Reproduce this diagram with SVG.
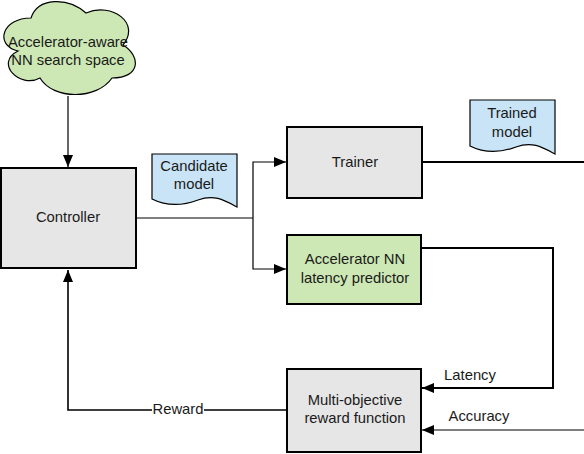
<svg xmlns="http://www.w3.org/2000/svg" width="584" height="454" viewBox="0 0 584 454">
<style>
text{font-family:"Liberation Sans",Arial,sans-serif;font-size:14.8px;fill:#1a1a1a;text-anchor:middle}
.box{stroke:#000;stroke-width:2}
.gray{fill:#e6e6e6}
.green{fill:#cde8b4}
.doc{fill:#c8e4f6;stroke:#000;stroke-width:1.2}
.ln{fill:none;stroke:#000}
</style>
<defs>
<marker id="ah" viewBox="0 0 12 10" refX="12" refY="5" markerWidth="12" markerHeight="10" markerUnits="userSpaceOnUse" orient="auto">
<path d="M0,0 L12,5 L0,10 Z" fill="#000"/>
</marker>
</defs>
<g id="connectors">
<path class="ln" stroke-width="1.2" d="M68,96 V167" marker-end="url(#ah)"/>
<path class="ln" stroke-width="1" d="M136,218 H253"/>
<path class="ln" stroke-width="1.2" d="M253,218 V162 H286" marker-end="url(#ah)"/>
<path class="ln" stroke-width="1.2" d="M253,218 V269 H286" marker-end="url(#ah)"/>
<path class="ln" stroke-width="2" d="M422,162 H584"/>
<path class="ln" stroke-width="2" d="M421,248 H553 V388 H422" marker-end="url(#ah)"/>
<path class="ln" stroke-width="1.2" d="M584,430 H422" marker-end="url(#ah)"/>
<path class="ln" stroke-width="1.6" d="M287,410 H68 V270" marker-end="url(#ah)"/>
<rect x="152" y="402" width="52" height="16" fill="#fff"/>
<text x="178" y="414">Reward</text>
<text x="470" y="380">Latency</text>
<text x="479" y="421">Accuracy</text>
</g>
<g id="search-space">
<path fill="#cde8b4" stroke="#000" stroke-width="1.2" d="M31,18 C2,18 -6,45 18,51 C-6,63 20,89 40,78 C53,100 97,100 112,78 C141,78 141,56 123,45 C141,23 112,2 86,13 C68,-3 38,-3 31,18 Z"/>
<text x="68" y="47">Accelerator-aware</text>
<text x="68" y="65">NN search space</text>
</g>
<g id="controller">
<rect class="box gray" x="1" y="168" width="135" height="100"/>
<text x="68" y="222">Controller</text>
</g>
<g id="candidate-model">
<path class="doc" d="M152,154 H237 V207 C224,200 214,194 198,200 C182,206 166,206 152,199 Z"/>
<text x="194" y="171">Candidate</text>
<text x="194" y="189">model</text>
</g>
<g id="trainer">
<rect class="box gray" x="287" y="127" width="135" height="71"/>
<text x="355" y="167">Trainer</text>
</g>
<g id="trained-model">
<path class="doc" d="M470,100 H555 V154 C542,147 532,141 516,147 C500,153 484,153 470,146 Z"/>
<text x="512" y="118">Trained</text>
<text x="512" y="137">model</text>
</g>
<g id="latency-predictor">
<rect class="box green" x="287" y="235" width="134" height="69"/>
<text x="355" y="264">Accelerator NN</text>
<text x="355" y="283">latency predictor</text>
</g>
<g id="reward-function">
<rect class="box gray" x="287" y="369" width="134" height="83"/>
<text x="355" y="405">Multi-objective</text>
<text x="355" y="423">reward function</text>
</g>
</svg>
